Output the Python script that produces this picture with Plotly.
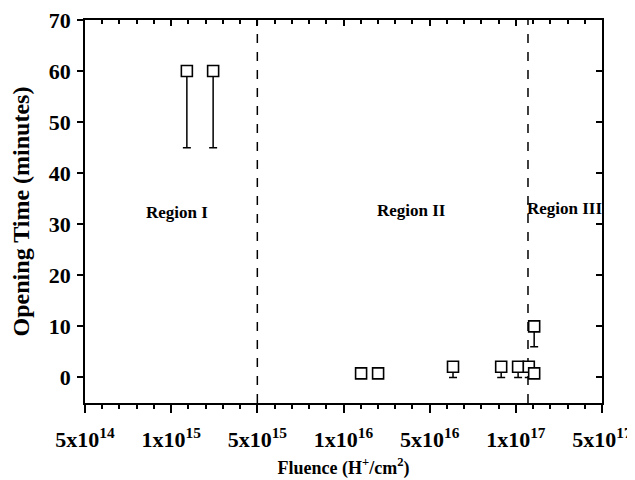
import numpy as np
import plotly.graph_objects as go

# Data
fluence_high = [1.95e15, 2.77e15]
time_high = [60, 60]
err_high = [15, 15]

fluence_low = [2.0e16, 2.51e16, 6.83e16, 1.30e17, 1.63e17, 1.88e17, 2.02e17, 2.02e17]
time_low = [0.8, 0.8, 2.1, 2.1, 2.1, 2.1, 10, 0.8]
err_low = [0.8, 0.8, 2.1, 2.1, 2.1, 2.1, 4, 0.8]

boundaries = [5e15, 1.86e17]

tick_vals = [5e14 * 10 ** (0.5 * k) for k in range(7)]
tick_text = ["5x10<sup>14</sup>", "1x10<sup>15</sup>", "5x10<sup>15</sup>", "1x10<sup>16</sup>",
             "5x10<sup>16</sup>", "1x10<sup>17</sup>", "5x10<sup>17</sup>"]
minor_vals = [5e14 * 10 ** (0.1 * k) for k in range(31)]
y_ticks = [0, 10, 20, 30, 40, 50, 60, 70]

region_labels = ["Region I", "Region II", "Region III"]
region_x = [0.178, 0.631, 0.928]
region_y = [32.4, 32.7, 33.1]

FONT = "Liberation Serif"
x_range = [np.log10(5e14), np.log10(5e17)]
y_range = [-5, 70]

fig = go.Figure()

for b in boundaries:
    fig.add_trace(go.Scatter(x=[b, b], y=y_range, mode="lines",
                             line=dict(color="black", width=1.5, dash="dash"),
                             showlegend=False, hoverinfo="skip"))

marker = dict(symbol="square", size=11, color="white", line=dict(color="black", width=1.6))
for xs, ys, es in [(fluence_high, time_high, err_high), (fluence_low, time_low, err_low)]:
    fig.add_trace(go.Scatter(
        x=xs, y=ys, mode="markers", marker=marker, showlegend=False,
        error_y=dict(type="data", symmetric=False, array=[0] * len(es), arrayminus=es,
                     color="black", thickness=1.5, width=4)))

# invisible trace on secondary axes so they render
fig.add_trace(go.Scatter(x=[1e15], y=[0], xaxis="x2", yaxis="y2", mode="markers",
                         marker=dict(opacity=0), showlegend=False, hoverinfo="skip"))

fig.update_layout(
    width=635, height=480,
    margin=dict(l=77, r=41, t=12, b=85),
    paper_bgcolor="white", plot_bgcolor="white",
    font=dict(family=FONT, color="black"),
    xaxis=dict(type="log", range=x_range, tickvals=tick_vals, ticktext=tick_text, automargin=False,
               ticks="outside", ticklen=8, tickwidth=1.5, tickcolor="black", ticklabelstandoff=8,
               ticklabeloverflow="allow",
               minor=dict(tickvals=minor_vals, ticks="outside", ticklen=4, tickwidth=1.5, tickcolor="black"),
               showline=True, linecolor="black", linewidth=1.5, showgrid=False, zeroline=False,
               tickfont=dict(family=FONT, size=22, color="black", weight="bold"),
               title=dict(text="<b>Fluence (H<sup>+</sup>/cm<sup>2</sup>)</b>",
                          font=dict(family=FONT, size=18, color="black"), standoff=10)),
    yaxis=dict(range=y_range, tickvals=y_ticks, automargin=False,
               ticks="outside", ticklen=6, tickwidth=1.5, tickcolor="black", ticklabelstandoff=2,
               ticklabeloverflow="allow",
               showline=True, linecolor="black", linewidth=1.5, showgrid=False, zeroline=False,
               tickfont=dict(family=FONT, size=22, color="black", weight="bold"),
               title=dict(text="<b>Opening Time (minutes)</b>",
                          font=dict(family=FONT, size=24, color="black"), standoff=13)),
    xaxis2=dict(type="log", range=x_range, overlaying="x", side="top", tickvals=tick_vals, automargin=False,
                showticklabels=False, ticks="inside", ticklen=6, tickwidth=1.5, tickcolor="black",
                minor=dict(tickvals=minor_vals, ticks="inside", ticklen=4, tickwidth=1.5, tickcolor="black"),
                showline=True, linecolor="black", linewidth=1.5, showgrid=False, zeroline=False),
    yaxis2=dict(range=y_range, overlaying="y", side="right", tickvals=y_ticks, automargin=False,
                showticklabels=False, ticks="inside", ticklen=6, tickwidth=1.5, tickcolor="black",
                showline=True, linecolor="black", linewidth=1.5, showgrid=False, zeroline=False),
)

for txt, xp, yv in zip(region_labels, region_x, region_y):
    fig.add_annotation(text="<b>" + txt + "</b>", x=xp, xref="paper", xanchor="center",
                       y=yv, yref="y", showarrow=False,
                       font=dict(family=FONT, size=17, color="black"))

fig.write_html("out.html")
